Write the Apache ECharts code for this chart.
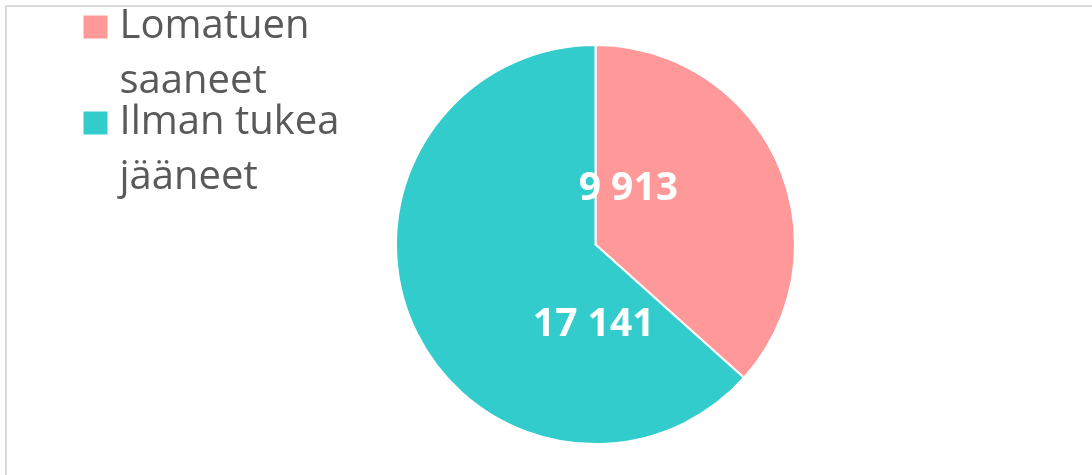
<!DOCTYPE html>
<html>
<head>
<meta charset="utf-8">
<script src="https://cdn.jsdelivr.net/npm/echarts@6/dist/echarts.min.js"></script>
<style>
html,body{margin:0;padding:0;background:#fff;}
#c{width:1092px;height:475px;}
</style>
</head>
<body>
<div id="c"></div>
<script>
const categories = ['Lomatuen\nsaaneet', 'Ilman tukea\njääneet'];
const values = [9913, 17141];
const labelTexts = ['9 913', '17 141'];
const colors = ['#ff9999', '#33cccc'];
const labelOffsets = [[-61, -14], [92, 39]];

const chart = echarts.init(document.getElementById('c'));
chart.setOption({
  animation: false,
  graphic: [{
    type: 'rect',
    shape: {x: 6, y: 6, width: 1200, height: 600},
    style: {fill: 'none', stroke: '#d9d9d9', lineWidth: 2},
    silent: true
  }],
  legend: {
    orient: 'vertical',
    left: 83.5,
    top: -55.5,
    padding: 0,
    itemWidth: 24,
    itemHeight: 23,
    itemGap: -69,
    icon: 'rect',
    itemStyle: {borderWidth: 0},
    formatter: name => '\n' + name,
    textStyle: {
      fontFamily: 'Open Sans',
      fontSize: 40,
      color: '#595959',
      lineHeight: 55,
      padding: [0, 0, 0, 7]
    },
    data: categories
  },
  series: [{
    type: 'pie',
    center: [595.5, 244.5],
    radius: 199.5,
    startAngle: 90,
    clockwise: true,
    itemStyle: {borderColor: '#fff', borderWidth: 2},
    label: {
      position: 'inside',
      color: '#fff',
      fontFamily: 'Open Sans',
      fontWeight: 'bold',
      fontSize: 39,
      formatter: p => labelTexts[p.dataIndex]
    },
    labelLine: {show: false},
    data: categories.map((n, i) => ({
      name: n,
      value: values[i],
      itemStyle: {color: colors[i]},
      label: {offset: labelOffsets[i]}
    }))
  }]
});
</script>
</body>
</html>
